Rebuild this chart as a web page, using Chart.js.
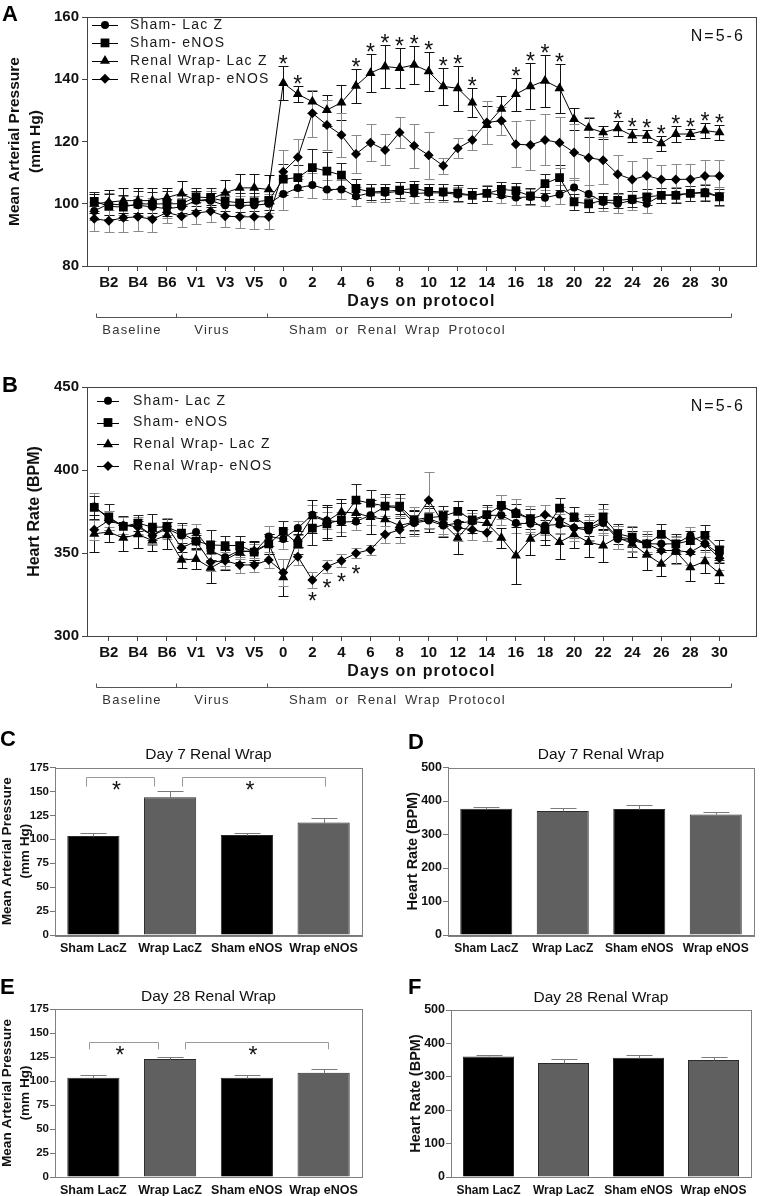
<!DOCTYPE html>
<html>
<head>
<meta charset="utf-8">
<script src="https://cdn.jsdelivr.net/npm/chart.js@4.4.1/dist/chart.umd.min.js"></script>
<style>
  body { margin: 0; background: #fff; }
  #page { position: relative; width: 762px; height: 1196px; overflow: hidden; }
  canvas { position: absolute; }
  .tag { position: absolute; font: bold 22px "Liberation Sans", Arial, sans-serif; line-height: 22px; color: #000; }
</style>
</head>
<body>
<div id="page">
  <canvas id="chartA" width="762" height="345" style="left:0;top:0"></canvas>
  <canvas id="chartB" width="762" height="345" style="left:0;top:370px"></canvas>
  <canvas id="chartC" width="380" height="240" style="left:0;top:720px"></canvas>
  <canvas id="chartD" width="382" height="240" style="left:380px;top:720px"></canvas>
  <canvas id="chartE" width="380" height="234" style="left:0;top:962px"></canvas>
  <canvas id="chartF" width="382" height="234" style="left:380px;top:962px"></canvas>
  <div class="tag" style="left:2px;top:3px">A</div>
  <div class="tag" style="left:2px;top:374px">B</div>
  <div class="tag" style="left:0;top:728px">C</div>
  <div class="tag" style="left:408px;top:731px">D</div>
  <div class="tag" style="left:0;top:976px">E</div>
  <div class="tag" style="left:408px;top:976px">F</div>
</div>
<script>
const FONT = '"Liberation Sans", Arial, Helvetica, sans-serif';
Chart.defaults.font.family = FONT;
Chart.defaults.color = '#111';

// x categories of the time course (baseline days, virus days, protocol days)
const protocolLabels = ['B1', 'B2', 'B3', 'B4', 'B5', 'B6', 'B7',
  'V1', 'V2', 'V3', 'V4', 'V5', 'V6',
  '0', '1', '2', '3', '4', '5', '6', '7', '8', '9', '10', '11', '12', '13', '14', '15',
  '16', '17', '18', '19', '20', '21', '22', '23', '24', '25', '26', '27', '28', '29', '30'];
const protocolTicks = [1, 3, 5, 7, 9, 11, 13, 15, 17, 19, 21, 23, 25, 27, 29, 31, 33, 35, 37, 39, 41, 43];

const seriesNames = ['Sham- Lac Z', 'Sham- eNOS', 'Renal Wrap- Lac Z', 'Renal Wrap- eNOS'];

// Panel A - mean arterial pressure (mm Hg)
const mapShamLacZ = [97.7, 100, 99.5, 99.5, 99, 98.4, 99, 101, 101, 99.5, 99.5, 99.5, 100,
  103.1, 105.1, 106, 104.6, 104.6, 102.4, 103.5, 103.5, 104, 103.3, 103.5, 103.5, 103, 102.7, 103.5, 102.7,
  102, 102.2, 101.9, 103, 105.2, 103.1, 100.6, 100, 101.1, 100, 102.7, 103, 103.3, 103.8, 102.4];
const mapShamEnos = [100.8, 99.2, 98.9, 100, 99.9, 100, 100, 102.2, 101.9, 100.8, 100.3, 100.6, 101.1,
  107.9, 108.4, 111.6, 110.5, 109.2, 104.9, 103.8, 104, 104.4, 104.9, 104, 103.8, 103.5, 102.7, 103.3, 104.6,
  104.2, 102.5, 106.5, 108.4, 100.6, 100, 101.1, 101.1, 101.5, 102.2, 102.7, 102.7, 103.3, 103.5, 102.2];
const mapWrapLacZ = [100, 100.5, 101, 101, 101, 102, 103.3, 101, 101.5, 103.5, 105.1, 105.1, 104.6,
  138.8, 135.2, 132.8, 130.1, 132.5, 137.9, 142, 144.1, 143.6, 144.6, 142.5, 137.7, 137.1, 132.5, 125.3, 130.5,
  135.2, 137.7, 139.5, 137.1, 127.2, 124.4, 122.9, 124.2, 121.9, 121.8, 119.4, 122.4, 122.4, 123.5, 122.9];
const mapWrapEnos = [95.2, 94.5, 95.5, 95.8, 95, 97.2, 96, 97, 97.6, 96, 95.8, 95.8, 95.8,
  110.3, 114.9, 129.1, 125.3, 122.1, 116, 119.6, 117.3, 122.9, 118.6, 115.6, 112.2, 117.8, 120.5, 126.1, 126.7,
  119.1, 118.9, 120.5, 119.6, 116.5, 114.8, 114, 109.5, 107.8, 109, 107.8, 107.8, 107.9, 108.9, 108.9];

const mapShamLacZErr = [3, 3.5, 3, 3, 3, 3, 3, 3, 3, 3, 3, 3, 3,
  5, 3, 4, 3, 3, 3, 3, 3, 3, 3, 3, 3, 2.5, 2.5, 2.5, 2.5,
  2.5, 2.5, 2.5, 3, 3, 3, 3, 3, 3, 3, 2.5, 2.5, 2.5, 2.5, 3];
const mapShamEnosErr = [3, 4, 4, 4, 4, 4, 3, 3, 3, 3, 3, 3, 3,
  5, 4, 6, 6, 4, 3, 2.5, 2.5, 2.5, 2.5, 2.5, 2.5, 2.5, 2.5, 2.5, 2.5,
  2.5, 2.5, 3, 4, 2.5, 2.5, 2.5, 2.5, 2.5, 2.5, 2.5, 2.5, 2.5, 2.5, 2.5];
const mapWrapLacZErr = [3, 4, 4, 4, 4, 3, 4, 3, 2, 4, 4.5, 4.5, 4.5,
  5.5, 2.5, 3.5, 5, 5.5, 5.5, 6, 7, 6.3, 6.2, 6.3, 6, 7.3, 4.7, 6, 4,
  5.3, 7.4, 8.4, 7.9, 3.5, 3, 2, 2.5, 2, 2, 2.5, 2.5, 1.5, 2.5, 2.5];
const mapWrapEnosErr = [4, 3.5, 4.5, 4.5, 4, 3.5, 3.5, 3.5, 3.5, 3.5, 3.5, 4, 4,
  7, 6, 7.5, 8, 7, 6, 6, 5, 5, 7, 7.5, 2.6, 3.2, 3.2, 7, 4.5,
  7.4, 8, 8.2, 8.2, 9, 13, 7.5, 6.3, 5.8, 5.6, 4.6, 5, 5, 5, 5];
const mapStars = [13, 14, 18, 19, 20, 21, 22, 23, 24, 25, 26, 29, 30, 31, 32, 36, 37, 38, 39, 40, 41, 42, 43];

// Panel B - heart rate (BPM)
const hrShamLacZ = [378, 370.6, 366.6, 366.6, 360.6, 364.6, 360.6, 362.6, 351.5, 347.4, 351.5, 350.5, 360,
  358.5, 365, 373.1, 369.6, 368.6, 369, 372.7, 378, 377.1, 368, 369.6, 366.6, 368, 369, 372.7, 372.7,
  368, 367.6, 366.6, 367.2, 365.2, 363.6, 368, 358.5, 357.5, 355.5, 355.5, 355.5, 360.6, 355.5, 349.5];
const hrShamEnos = [377.5, 371.7, 366, 368, 365.6, 365.6, 362, 357.1, 354.9, 354.5, 354.5, 350.5, 355.5,
  363, 355.5, 365, 367.6, 370, 381.8, 380, 378.3, 378.3, 370, 371.3, 372.1, 375.1, 370, 373.1, 378.7,
  373.7, 370.6, 364, 377.1, 371.7, 366, 371.7, 361.6, 359.5, 355.5, 361.2, 355.5, 357.5, 360.6, 351.9];
const hrWrapLacZ = [361.6, 362.6, 359.1, 361.2, 357.5, 360.6, 345.8, 346.4, 341, 345.8, 350.5, 351.5, 355.5,
  335.3, 358.5, 372.1, 369.2, 374.7, 374.1, 371.7, 370.2, 366.6, 368.6, 370.6, 367.6, 359.1, 369, 368, 359.1,
  348.4, 358.5, 364, 356.5, 361.2, 356.5, 354.5, 359.5, 355.5, 349, 343.4, 351, 341.4, 345, 337.7];
const hrWrapEnos = [364, 369.6, 366.6, 365.6, 360.6, 366, 353.1, 357.1, 344.4, 345.4, 342.8, 342.8, 345.8,
  338.3, 347.8, 333.7, 341.8, 345.4, 349.9, 352, 361.2, 364, 369, 381.8, 368, 365.2, 364, 362.2, 377.7,
  374.7, 370.6, 373.1, 370, 365.2, 365.2, 368.6, 359.5, 358.5, 355.5, 351.5, 351.5, 350.5, 355.5, 346.8];

const hrShamLacZErr = [8, 5, 5, 5, 6, 6, 6, 5, 6, 5, 5, 5, 6,
  6, 4, 6, 5, 6, 5, 6, 6, 6, 5, 5, 5, 6, 5, 5, 6,
  6, 6, 6, 6, 6, 6, 6, 6, 6, 5, 5, 5, 5, 5, 5];
const hrShamEnosErr = [7, 8, 6, 5, 8, 5, 6, 4, 9, 6, 6, 6, 6,
  6, 6, 10, 10, 10, 10, 8, 7, 7, 6, 6, 6, 6, 6, 6, 6,
  6, 6, 6, 6, 6, 6, 8, 6, 6, 6, 6, 6, 6, 6, 6];
const hrWrapLacZErr = [11, 6, 8, 8, 6, 8, 5, 6, 9, 6, 6, 6, 6,
  11, 5, 10, 10, 8, 6, 10, 8, 7, 7, 8, 8, 10, 7, 5, 6,
  17, 10, 9, 10, 8, 9, 10, 7, 8, 9, 7, 7, 8, 7, 6];
const hrWrapEnosErr = [6, 6, 5, 5, 5, 5, 6, 5, 5, 5, 5, 4, 5,
  8, 5, 5, 4, 4, 3, 3, 5, 8, 9, 17, 8, 8, 6, 5, 7,
  8, 8, 6, 8, 8, 8, 8, 7, 8, 8, 8, 8, 8, 8, 7];
const hrStars = [15, 16, 17, 18];

// Panels C-F - group bars
const groupNames = ['Sham LacZ', 'Wrap LacZ', 'Sham eNOS', 'Wrap eNOS'];
const mapDay7 = [103.5, 144, 104.5, 117.5];
const mapDay7Err = [3, 6.5, 2.4, 5];
const hrDay7 = [377, 370, 376, 360];
const hrDay7Err = [5, 10, 12, 6];
const mapDay28 = [103.4, 122.9, 103.4, 108.7];
const mapDay28Err = [3, 2, 2.5, 4];
const hrDay28 = [361, 341, 357, 350];
const hrDay28Err = [5, 11, 7, 8];

const marks = ['circle', 'rect', 'triangle', 'rectRot'];
const markRadius = [4, 6.2, 5.8, 5];
const lineErrColors = ['#8a8a8a', '#222', '#111', '#8a8a8a'];
const barFills = ['#000', '#606060', '#000', '#606060'];

function lineSets(lists) {
  return lists.map((vals, k) => ({
    label: seriesNames[k],
    data: vals.map((v, i) => ({ x: i, y: v })),
    borderColor: '#000',
    borderWidth: 1,
    backgroundColor: '#000',
    pointStyle: marks[k],
    pointRadius: markRadius[k],
    pointBorderWidth: 0,
    pointBackgroundColor: '#000',
    tension: 0
  }));
}

function putText(ctx, str, x, y, font, align, spacing, color, baseline) {
  ctx.save();
  ctx.font = font;
  ctx.fillStyle = color || '#111';
  ctx.textAlign = align || 'left';
  ctx.textBaseline = baseline || 'middle';
  if (spacing) ctx.letterSpacing = spacing;
  ctx.fillText(str, x, y);
  ctx.restore();
}

function drawErrors(chart, cfg) {
  const ctx = chart.ctx;
  const ys = chart.scales.y;
  cfg.errors.forEach((errs, di) => {
    const vals = cfg.values[di];
    const meta = chart.getDatasetMeta(di);
    ctx.save();
    ctx.strokeStyle = cfg.errColors[di];
    ctx.lineWidth = 1;
    meta.data.forEach((pt, i) => {
      const e = errs[i];
      if (!e) return;
      const px = Math.round(pt.x) + 0.5;
      const top = Math.round(ys.getPixelForValue(vals[i] + e)) + 0.5;
      const bot = Math.round(ys.getPixelForValue(cfg.upOnly ? vals[i] : vals[i] - e)) + 0.5;
      ctx.beginPath();
      ctx.moveTo(px, top);
      ctx.lineTo(px, bot);
      ctx.moveTo(px - cfg.cap, top);
      ctx.lineTo(px + cfg.cap, top);
      if (!cfg.upOnly) {
        ctx.moveTo(px - cfg.cap, bot);
        ctx.lineTo(px + cfg.cap, bot);
      }
      ctx.stroke();
    });
    ctx.restore();
  });
}

function extras(cfg) {
  return {
    id: 'extras',
    beforeDatasetsDraw(chart) {
      if (!cfg.upOnly) drawErrors(chart, cfg);
    },
    afterDatasetsDraw(chart) {
      if (cfg.upOnly) drawErrors(chart, cfg);
    },
    afterDraw(chart) {
      const ctx = chart.ctx;
      const area = chart.chartArea;
      const xs = chart.scales.x;
      const ys = chart.scales.y;

      // frame round the plot
      ctx.save();
      ctx.strokeStyle = cfg.boxColor;
      ctx.lineWidth = 1;
      ctx.strokeRect(Math.round(area.left) + 0.5, Math.round(area.top) + 0.5,
        Math.round(area.right - area.left), Math.round(area.bottom - area.top));
      ctx.restore();

      if (cfg.legend) {
        const lg = cfg.legend;
        chart.data.datasets.forEach((ds, k) => {
          const row = area.top + lg.y0 + k * lg.dy;
          ctx.save();
          ctx.strokeStyle = '#000';
          ctx.lineWidth = 1;
          ctx.beginPath();
          ctx.moveTo(area.left + lg.x0, Math.round(row) + 0.5);
          ctx.lineTo(area.left + lg.x1, Math.round(row) + 0.5);
          ctx.stroke();
          ctx.fillStyle = '#000';
          if (Chart.helpers && Chart.helpers.drawPoint) {
            Chart.helpers.drawPoint(ctx, { pointStyle: ds.pointStyle, radius: ds.pointRadius, rotation: 0, borderWidth: 0 },
              area.left + lg.xm, row);
          } else {
            ctx.beginPath();
            ctx.arc(area.left + lg.xm, row, 4, 0, Math.PI * 2);
            ctx.fill();
          }
          ctx.restore();
          putText(ctx, ds.label, area.left + lg.tx, row, '14px ' + FONT, 'left', '1.2px', '#1a1a1a');
        });
      }

      if (cfg.stars) {
        const st = cfg.stars;
        const vals = cfg.values[st.dataset];
        const errs = cfg.errors[st.dataset];
        const x = chart.getDatasetMeta(st.dataset).data;
        st.idx.forEach(i => {
          let yc;
          if (st.below) yc = ys.getPixelForValue(vals[i]) + st.offset;
          else yc = ys.getPixelForValue(vals[i] + errs[i]) - st.offset;
          putText(ctx, '*', x[i].x, yc + 13, '23px ' + FONT, 'center', null, '#111', 'alphabetic');
        });
      }

      if (cfg.pairs) {
        cfg.pairs.forEach(p => {
          const x1 = Math.round(xs.getPixelForValue(p.from)) + 0.5;
          const x2 = Math.round(xs.getPixelForValue(p.to)) + 0.5;
          const yt = Math.round(ys.getPixelForValue(p.top)) + 0.5;
          const yl = ys.getPixelForValue(p.leg);
          ctx.save();
          ctx.strokeStyle = '#9a9a9a';
          ctx.lineWidth = 1;
          ctx.beginPath();
          ctx.moveTo(x1, yl);
          ctx.lineTo(x1, yt);
          ctx.lineTo(x2, yt);
          ctx.lineTo(x2, yl);
          ctx.stroke();
          ctx.restore();
          putText(ctx, '*', (x1 + x2) / 2 - 4, yt + 20, '23px ' + FONT, 'center', null, '#111', 'alphabetic');
        });
      }

      if (cfg.nLabel) {
        putText(ctx, cfg.nLabel, area.right - 11, area.top + 20, '16px ' + FONT, 'right', '2px', '#111');
      }

      if (cfg.title) {
        putText(ctx, cfg.title, (area.left + area.right) / 2, area.top - 12.5, '15.5px ' + FONT, 'center', null, '#111');
      }

      if (cfg.xTitle) {
        putText(ctx, cfg.xTitle, (area.left + area.right) / 2, area.bottom + 36, 'bold 16px ' + FONT, 'center', '1.1px', '#111');
      }

      if (cfg.brackets) {
        const br = cfg.brackets;
        const yb = Math.round(area.bottom + br.y) + 0.5;
        ctx.save();
        ctx.strokeStyle = '#555';
        ctx.lineWidth = 1;
        ctx.beginPath();
        const px = br.stops.map(s => Math.round(xs.getPixelForValue(s)) + 0.5);
        ctx.moveTo(px[0], yb);
        ctx.lineTo(px[px.length - 1], yb);
        px.forEach(p => {
          ctx.moveTo(p, yb);
          ctx.lineTo(p, yb - br.h);
        });
        ctx.stroke();
        ctx.restore();
        br.labels.forEach(l => {
          ctx.save();
          ctx.wordSpacing = '3px';
          putText(ctx, l.text, xs.getPixelForValue(l.at), area.bottom + br.labelY, '13px ' + FONT, 'center', '1.2px', '#333');
          ctx.restore();
        });
      }
    }
  };
}

const protocolBrackets = {
  y: 51, h: 4, labelY: 64,
  stops: [0.15, 5.6, 11.9, 43.8],
  labels: [
    { text: 'Baseline', at: 2.6 },
    { text: 'Virus', at: 8.1 },
    { text: 'Sham or Renal Wrap Protocol', at: 20.85 }
  ]
};

function timeCourse(id, lists, errs, yMin, yMax, yStep, yTitle, yTitlePad, padRight, legend, stars) {
  return new Chart(document.getElementById(id), {
    type: 'line',
    data: { datasets: lineSets(lists) },
    options: {
      responsive: false,
      animation: false,
      layout: { padding: { top: 17, right: padRight, left: 0, bottom: 0 } },
      plugins: { legend: { display: false }, tooltip: { enabled: false } },
      scales: {
        x: {
          type: 'linear',
          min: -0.5,
          max: 45.5,
          afterBuildTicks: s => { s.ticks = protocolTicks.map(v => ({ value: v })); },
          afterFit: s => { s.height = 79; },
          ticks: {
            callback: v => protocolLabels[v],
            autoSkip: false,
            maxRotation: 0,
            padding: 3,
            color: '#111',
            font: { size: 15, weight: 'bold' }
          },
          grid: { drawOnChartArea: false, tickLength: 5, color: '#444' },
          border: { color: '#444' }
        },
        y: {
          min: yMin,
          max: yMax,
          afterFit: s => { s.width = 87; },
          ticks: { stepSize: yStep, padding: 3, color: '#111', font: { size: 15, weight: 'bold' } },
          grid: { drawOnChartArea: false, tickLength: 5, color: '#444' },
          border: { color: '#444' },
          title: {
            display: true,
            text: yTitle,
            color: '#111',
            font: { size: yTitle.length > 1 ? 15.5 : 16, weight: 'bold', lineHeight: yTitle.length > 1 ? 1.3 : 1.2 },
            padding: { top: yTitlePad, bottom: 0 }
          }
        }
      }
    },
    plugins: [extras({
      values: lists,
      errors: errs,
      errColors: lineErrColors,
      cap: 5,
      upOnly: false,
      boxColor: '#444',
      legend: legend,
      stars: stars,
      nLabel: 'N=5-6',
      xTitle: 'Days on protocol',
      brackets: protocolBrackets
    })]
  });
}

timeCourse('chartA',
  [mapShamLacZ, mapShamEnos, mapWrapLacZ, mapWrapEnos],
  [mapShamLacZErr, mapShamEnosErr, mapWrapLacZErr, mapWrapEnosErr],
  80, 160, 20, ['Mean Arterial Pressure', '(mm Hg)'], 5, 3,
  { x0: 5, x1: 31, xm: 18, tx: 43, y0: 8, dy: 17.9 },
  { dataset: 2, idx: mapStars, below: false, offset: 7 });

timeCourse('chartB',
  [hrShamLacZ, hrShamEnos, hrWrapLacZ, hrWrapEnos],
  [hrShamLacZErr, hrShamEnosErr, hrWrapLacZErr, hrWrapEnosErr],
  300, 450, 50, ['Heart Rate (BPM)'], 25, 5,
  { x0: 10, x1: 32, xm: 21, tx: 46, y0: 13.7, dy: 21.8 },
  { dataset: 3, idx: hrStars, below: true, offset: 16 });

function groupBars(id, vals, errs, yMax, yStep, yTitle, title, o) {
  const twoLine = yTitle.length > 1;
  return new Chart(document.getElementById(id), {
    type: 'bar',
    data: {
      labels: groupNames,
      datasets: [{
        data: vals,
        backgroundColor: barFills,
        borderColor: '#2a2a2a',
        borderWidth: 1,
        barPercentage: 0.68,
        categoryPercentage: 1
      }]
    },
    options: {
      responsive: false,
      animation: false,
      layout: { padding: { top: o.top, right: o.right, left: 0, bottom: 0 } },
      plugins: { legend: { display: false }, tooltip: { enabled: false } },
      scales: {
        x: {
          afterFit: s => { s.height = o.xh; },
          ticks: { padding: 6, autoSkip: false, maxRotation: 0, color: '#111', font: { size: o.catSize, weight: 'bold' } },
          grid: { display: false, drawTicks: false },
          border: { color: '#777' }
        },
        y: {
          min: 0,
          max: yMax,
          afterFit: s => { s.width = o.yw; },
          ticks: { stepSize: yStep, padding: 1, color: '#111', font: { size: o.tickSize, weight: 'bold' } },
          grid: { drawOnChartArea: false, tickLength: 5, color: '#777' },
          border: { color: '#777' },
          title: {
            display: true,
            text: yTitle,
            color: '#111',
            font: { size: twoLine ? 13.6 : 14.5, weight: 'bold', lineHeight: twoLine ? 1.35 : 1.2 },
            padding: { top: o.titlePad, bottom: 0 }
          }
        }
      }
    },
    plugins: [extras({
      values: [vals],
      errors: [errs],
      errColors: ['#7a7a7a'],
      cap: 13,
      upOnly: true,
      boxColor: '#808080',
      pairs: o.pairs,
      title: title
    })]
  });
}

groupBars('chartC', mapDay7, mapDay7Err, 175, 25, ['Mean Arterial Pressure', '(mm Hg)'], 'Day 7 Renal Wrap',
  { top: 47.5, right: 18, xh: 25, yw: 55, catSize: 12.5, tickSize: 11.5, titlePad: -2,
    pairs: [{ from: -0.1, to: 0.79, top: 165, leg: 155 }, { from: 1.15, to: 3.02, top: 165, leg: 155 }] });

groupBars('chartD', hrDay7, hrDay7Err, 500, 100, ['Heart Rate (BPM)'], 'Day 7 Renal Wrap',
  { top: 47.5, right: 8, xh: 25, yw: 68, catSize: 12, tickSize: 12.5, titlePad: 24 });

groupBars('chartE', mapDay28, mapDay28Err, 175, 25, ['Mean Arterial Pressure', '(mm Hg)'], 'Day 28 Renal Wrap',
  { top: 47, right: 18, xh: 19, yw: 55, catSize: 12.5, tickSize: 11.5, titlePad: -2,
    pairs: [{ from: -0.06, to: 0.84, top: 141, leg: 133 }, { from: 1.19, to: 3.06, top: 141, leg: 133 }] });

groupBars('chartF', hrDay28, hrDay28Err, 500, 100, ['Heart Rate (BPM)'], 'Day 28 Renal Wrap',
  { top: 48, right: 11, xh: 19, yw: 71, catSize: 12, tickSize: 12.5, titlePad: 27 });
</script>
</body>
</html>
